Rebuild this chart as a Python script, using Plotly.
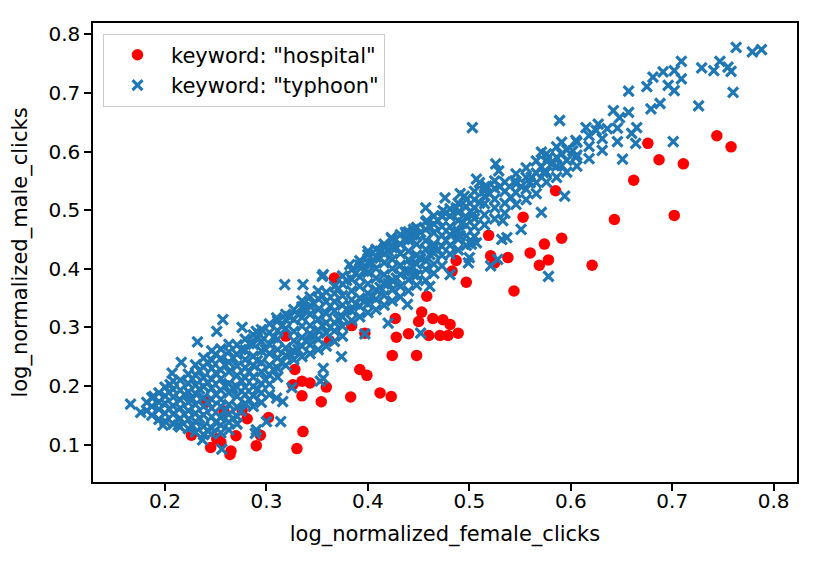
import plotly.graph_objs as go

# keyword "hospital" (red dots)
hospital_x = [0.744, 0.758, 0.676, 0.687, 0.711, 0.662, 0.585, 0.643, 0.702, 0.553,
              0.591, 0.574, 0.560, 0.578, 0.569, 0.621, 0.519, 0.521, 0.525, 0.538,
              0.544, 0.497, 0.487, 0.483, 0.458, 0.453, 0.450, 0.464, 0.474, 0.481,
              0.427, 0.428, 0.440, 0.460, 0.471, 0.479, 0.489, 0.424, 0.448, 0.397,
              0.384, 0.392, 0.399, 0.412, 0.423, 0.383, 0.354, 0.335, 0.359, 0.343,
              0.335, 0.328, 0.326, 0.319, 0.362, 0.336, 0.330, 0.302, 0.294, 0.290,
              0.281, 0.276, 0.270, 0.245, 0.265, 0.264, 0.226, 0.258, 0.240, 0.251,
              0.255, 0.367]
hospital_y = [0.627, 0.608, 0.614, 0.586, 0.579, 0.551, 0.533, 0.484, 0.491, 0.488,
              0.452, 0.442, 0.427, 0.415, 0.406, 0.406, 0.457, 0.422, 0.410, 0.419,
              0.362, 0.377, 0.414, 0.396, 0.353, 0.326, 0.310, 0.315, 0.313, 0.305,
              0.315, 0.283, 0.289, 0.286, 0.286, 0.286, 0.290, 0.252, 0.252, 0.290,
              0.303, 0.228, 0.218, 0.188, 0.182, 0.181, 0.173, 0.183, 0.198, 0.205,
              0.208, 0.228, 0.202, 0.285, 0.277, 0.122, 0.093, 0.146, 0.116, 0.098,
              0.144, 0.159, 0.115, 0.095, 0.089, 0.083, 0.116, 0.157, 0.172, 0.110,
              0.104, 0.384]

# keyword "typhoon": the loose points round the edge of the cloud
typhoon_outer = [
    (0.318, 0.373), (0.257, 0.313), (0.276, 0.300), (0.251, 0.293), (0.232, 0.275),
    (0.216, 0.240), (0.207, 0.222), (0.205, 0.202), (0.166, 0.169), (0.176, 0.155),
    (0.314, 0.139), (0.300, 0.139), (0.289, 0.119), (0.290, 0.293), (0.310, 0.316),
    (0.256, 0.092), (0.189, 0.182), (0.198, 0.133), (0.213, 0.133), (0.237, 0.108),
    (0.290, 0.125), (0.310, 0.179), (0.325, 0.197), (0.293, 0.288), (0.338, 0.333),
    (0.336, 0.373), (0.355, 0.387), (0.382, 0.407), (0.400, 0.430), (0.423, 0.453),
    (0.374, 0.250), (0.356, 0.213), (0.397, 0.289), (0.452, 0.290), (0.420, 0.307),
    (0.457, 0.504), (0.474, 0.499), (0.487, 0.504), (0.504, 0.493), (0.502, 0.442),
    (0.499, 0.410), (0.481, 0.390), (0.461, 0.370), (0.439, 0.339), (0.353, 0.208),
    (0.316, 0.173), (0.503, 0.641), (0.589, 0.653), (0.615, 0.641), (0.642, 0.670),
    (0.571, 0.599), (0.578, 0.590), (0.602, 0.601), (0.591, 0.576), (0.573, 0.564),
    (0.526, 0.579), (0.529, 0.567), (0.507, 0.553), (0.545, 0.550), (0.560, 0.547),
    (0.594, 0.524), (0.571, 0.496), (0.517, 0.541), (0.495, 0.524), (0.476, 0.521),
    (0.551, 0.467), (0.537, 0.453), (0.578, 0.387), (0.657, 0.667), (0.679, 0.673),
    (0.688, 0.682), (0.726, 0.678), (0.760, 0.701), (0.665, 0.641), (0.660, 0.631),
    (0.664, 0.614), (0.701, 0.617), (0.651, 0.587), (0.605, 0.619), (0.591, 0.616),
    (0.627, 0.647), (0.605, 0.590), (0.515, 0.533), (0.533, 0.482), (0.532, 0.450),
    (0.507, 0.444), (0.528, 0.416), (0.521, 0.405), (0.500, 0.419), (0.763, 0.778),
    (0.779, 0.770), (0.788, 0.774), (0.747, 0.754), (0.741, 0.738), (0.729, 0.743),
    (0.755, 0.744), (0.758, 0.737), (0.709, 0.754), (0.702, 0.738), (0.691, 0.736),
    (0.709, 0.724), (0.696, 0.713), (0.702, 0.704), (0.681, 0.727), (0.675, 0.711),
    (0.657, 0.703), (0.648, 0.658), (0.636, 0.639), (0.625, 0.636), (0.356, 0.390),
    (0.417, 0.436), (0.437, 0.462), (0.448, 0.470), (0.491, 0.528), (0.445, 0.467),
    (0.458, 0.482), (0.510, 0.547), (0.491, 0.456), (0.465, 0.436), (0.451, 0.419),
    (0.438, 0.459), (0.412, 0.430), (0.425, 0.379), (0.445, 0.390), (0.356, 0.230),
]

# keyword "typhoon": the packed middle of the cloud, column by column
typhoon_core = [
    (0.182, [0.158, 0.172]),
    (0.187, [0.150, 0.165, 0.180]),
    (0.194, [0.143, 0.160, 0.172, 0.188]),
    (0.200, [0.140, 0.153, 0.170, 0.183, 0.198]),
    (0.208, [0.135, 0.152, 0.166, 0.181, 0.194, 0.208]),
    (0.215, [0.130, 0.144, 0.162, 0.176, 0.193, 0.210]),
    (0.223, [0.127, 0.143, 0.158, 0.172, 0.190, 0.204, 0.220]),
    (0.230, [0.121, 0.139, 0.153, 0.168, 0.187, 0.201, 0.219, 0.236]),
    (0.238, [0.117, 0.131, 0.150, 0.165, 0.180, 0.199, 0.214, 0.232, 0.248]),
    (0.246, [0.118, 0.128, 0.147, 0.162, 0.177, 0.196, 0.211, 0.230, 0.244, 0.260]),
    (0.255, [0.120, 0.133, 0.146, 0.165, 0.177, 0.193, 0.212, 0.227, 0.247, 0.263]),
    (0.263, [0.125, 0.138, 0.152, 0.168, 0.188, 0.204, 0.224, 0.240, 0.258, 0.271]),
    (0.271, [0.135, 0.148, 0.164, 0.182, 0.198, 0.218, 0.234, 0.254, 0.270]),
    (0.279, [0.170, 0.185, 0.198, 0.214, 0.231, 0.245, 0.261, 0.280]),
    (0.287, [0.165, 0.183, 0.199, 0.215, 0.235, 0.251, 0.271, 0.287]),
    (0.295, [0.172, 0.188, 0.204, 0.224, 0.240, 0.260, 0.276, 0.296]),
    (0.303, [0.185, 0.203, 0.219, 0.235, 0.255, 0.271, 0.291, 0.306]),
    (0.311, [0.215, 0.230, 0.248, 0.262, 0.280, 0.294, 0.311]),
    (0.319, [0.235, 0.252, 0.265, 0.298, 0.313, 0.322]),
    (0.327, [0.245, 0.259, 0.277, 0.293, 0.313, 0.330]),
    (0.335, [0.250, 0.268, 0.283, 0.302, 0.317, 0.335, 0.345]),
    (0.343, [0.255, 0.270, 0.289, 0.303, 0.322, 0.336, 0.352]),
    (0.351, [0.262, 0.280, 0.295, 0.314, 0.330, 0.349, 0.362]),
    (0.359, [0.268, 0.290, 0.308, 0.324, 0.344, 0.360]),
    (0.367, [0.276, 0.294, 0.308, 0.328, 0.344, 0.358, 0.370]),
    (0.375, [0.285, 0.302, 0.318, 0.338, 0.354, 0.374, 0.388]),
    (0.384, [0.312, 0.328, 0.347, 0.362, 0.382, 0.398]),
    (0.392, [0.318, 0.336, 0.350, 0.370, 0.386, 0.406, 0.414]),
    (0.400, [0.325, 0.340, 0.358, 0.374, 0.394, 0.410, 0.424]),
    (0.408, [0.330, 0.348, 0.364, 0.384, 0.400, 0.420, 0.433]),
    (0.416, [0.338, 0.354, 0.374, 0.390, 0.410, 0.426, 0.442]),
    (0.424, [0.345, 0.364, 0.380, 0.400, 0.416, 0.436, 0.450]),
    (0.432, [0.352, 0.370, 0.390, 0.406, 0.426, 0.442, 0.458]),
    (0.440, [0.362, 0.381, 0.396, 0.415, 0.430, 0.449, 0.463]),
    (0.448, [0.372, 0.389, 0.408, 0.423, 0.442, 0.456, 0.470]),
    (0.457, [0.380, 0.399, 0.414, 0.433, 0.448, 0.467, 0.480]),
    (0.465, [0.392, 0.408, 0.427, 0.442, 0.461, 0.476, 0.490]),
    (0.473, [0.405, 0.423, 0.438, 0.457, 0.472, 0.490]),
    (0.481, [0.425, 0.440, 0.458, 0.472, 0.490, 0.502]),
    (0.489, [0.432, 0.450, 0.464, 0.482, 0.496, 0.512]),
    (0.497, [0.440, 0.456, 0.474, 0.488, 0.506, 0.518]),
    (0.505, [0.455, 0.472, 0.486, 0.504, 0.518, 0.532]),
    (0.515, [0.475, 0.492, 0.511, 0.524, 0.540]),
    (0.525, [0.485, 0.504, 0.519, 0.537, 0.550]),
    (0.535, [0.495, 0.512, 0.532, 0.548]),
    (0.546, [0.510, 0.530, 0.545, 0.562]),
    (0.556, [0.518, 0.536, 0.556, 0.572]),
    (0.566, [0.528, 0.547, 0.563, 0.584]),
    (0.576, [0.548, 0.565, 0.584, 0.596]),
    (0.586, [0.556, 0.575, 0.590, 0.608]),
    (0.596, [0.565, 0.585, 0.603]),
    (0.606, [0.575, 0.594, 0.616]),
    (0.618, [0.588, 0.609, 0.627]),
    (0.631, [0.602, 0.622]),
    (0.646, [0.617, 0.640]),
]

# keyword "typhoon": marks sitting between the columns above
typhoon_between = [
    (0.204, 0.161), (0.204, 0.189), (0.219, 0.152), (0.219, 0.185), (0.227, 0.132),
    (0.227, 0.178), (0.227, 0.212), (0.234, 0.145), (0.234, 0.195), (0.234, 0.226),
    (0.242, 0.124), (0.242, 0.172), (0.242, 0.206), (0.242, 0.240), (0.250, 0.138),
    (0.250, 0.186), (0.250, 0.222), (0.250, 0.254), (0.259, 0.158), (0.259, 0.200),
    (0.259, 0.236), (0.267, 0.144), (0.267, 0.196), (0.267, 0.248), (0.275, 0.157),
    (0.275, 0.209), (0.275, 0.262), (0.283, 0.176), (0.283, 0.224), (0.283, 0.272),
    (0.291, 0.194), (0.291, 0.243), (0.291, 0.281), (0.299, 0.210), (0.299, 0.262),
    (0.307, 0.228), (0.307, 0.283), (0.315, 0.240), (0.315, 0.302), (0.323, 0.255),
    (0.323, 0.318), (0.331, 0.262), (0.331, 0.322), (0.339, 0.277), (0.339, 0.328),
    (0.347, 0.284), (0.347, 0.340), (0.355, 0.303), (0.355, 0.354), (0.363, 0.300),
    (0.363, 0.336), (0.371, 0.314), (0.371, 0.366), (0.379, 0.330), (0.379, 0.380),
    (0.388, 0.340), (0.388, 0.392), (0.396, 0.344), (0.396, 0.396), (0.404, 0.352),
    (0.404, 0.410), (0.412, 0.368), (0.412, 0.418), (0.420, 0.375), (0.420, 0.430),
    (0.428, 0.384), (0.428, 0.436), (0.436, 0.396), (0.436, 0.450), (0.444, 0.403),
    (0.444, 0.458), (0.452, 0.417), (0.452, 0.462), (0.461, 0.424), (0.461, 0.472),
    (0.469, 0.432), (0.469, 0.482), (0.477, 0.448), (0.477, 0.495), (0.485, 0.462),
    (0.493, 0.478), (0.501, 0.498), (0.510, 0.512), (0.520, 0.528), (0.530, 0.540),
    (0.541, 0.522), (0.551, 0.540), (0.561, 0.556), (0.571, 0.574), (0.581, 0.578),
    (0.591, 0.596),
]

x_ticks = [0.2, 0.3, 0.4, 0.5, 0.6, 0.7, 0.8]
y_ticks = [0.1, 0.2, 0.3, 0.4, 0.5, 0.6, 0.7, 0.8]

typhoon_x = []
typhoon_y = []
for x, ys in typhoon_core:
    for y in ys:
        typhoon_x.append(x)
        typhoon_y.append(y)
for x, y in typhoon_between + typhoon_outer:
    typhoon_x.append(x)
    typhoon_y.append(y)

FONT = "DejaVu Sans"

fig = go.Figure()
fig.add_trace(go.Scatter(x=hospital_x, y=hospital_y, mode='markers',
                         name='keyword: "hospital"',
                         marker=dict(symbol='circle', size=11.5, color='red',
                                     line=dict(width=0))))
fig.add_trace(go.Scatter(x=typhoon_x, y=typhoon_y, mode='markers',
                         name='keyword: "typhoon"',
                         marker=dict(symbol='x-thin', size=10, color='#1f77b4',
                                     line=dict(width=3.2, color='#1f77b4'))))

axis_style = dict(showline=True, mirror=True, linecolor='black', linewidth=1.5,
                  ticks='outside', ticklen=7, tickwidth=1.5, tickcolor='black',
                  showgrid=False, zeroline=False, tickformat='.1f',
                  tickfont=dict(family=FONT, size=20, color='black'))

# the page keeps an 8px body margin top and left, so the figure is 8px smaller
fig.update_layout(
    width=813, height=553,
    margin=dict(l=85, r=24, t=15, b=79),
    paper_bgcolor='white', plot_bgcolor='white',
    font=dict(family=FONT, size=20, color='black'),
    xaxis=dict(range=[0.129, 0.823], tickvals=x_ticks, ticklabelstandoff=-7,
               title=dict(text='log_normalized_female_clicks',
                          font=dict(family=FONT, size=21)),
               **axis_style),
    yaxis=dict(range=[0.036, 0.8194], tickvals=y_ticks,
               title=dict(text='log_normalized_male_clicks',
                          font=dict(family=FONT, size=21)),
               **axis_style),
    legend=dict(x=0.0142, y=0.977, xanchor='left', yanchor='top',
                bgcolor='white', bordercolor='#cccccc', borderwidth=1,
                itemwidth=57, font=dict(family=FONT, size=21)),
)

fig.write_html("out.html")
